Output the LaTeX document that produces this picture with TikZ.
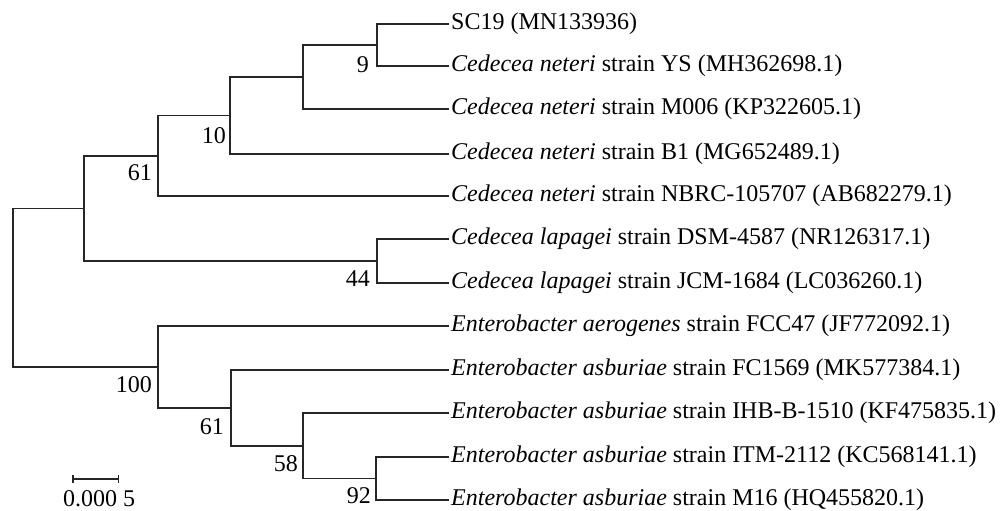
\documentclass[tikz,border=0pt]{standalone}
\usepackage{fontspec}
\setmainfont{Liberation Serif}
\usetikzlibrary{calc,arrows.meta}

\begin{document}
\begin{tikzpicture}[x=1pt, y=-1pt,
    branch/.style={draw, line width=1.5pt, color=black!85},
    leaf/.style={anchor=west, inner sep=2pt, font=\fontsize{24}{28}\selectfont},
    boot/.style={anchor=base east, inner sep=0pt, font=\fontsize{24}{28}\selectfont}]
    \useasboundingbox(0,0)rectangle(1001,511);

    % 葉ラベル
    \node[leaf](t1)at(449,24){SC19 (MN133936)};
    \node[leaf](t2)at(449,66){\textit{Cedecea neteri} strain YS (MH362698.1)};
    \node[leaf](t3)at(449,109){\textit{Cedecea neteri} strain M006 (KP322605.1)};
    \node[leaf](t4)at(449,154){\textit{Cedecea neteri} strain B1 (MG652489.1)};
    \node[leaf](t5)at(449,196){\textit{Cedecea neteri} strain NBRC-105707 (AB682279.1)};
    \node[leaf](t6)at(449,239){\textit{Cedecea lapagei} strain DSM-4587 (NR126317.1)};
    \node[leaf](t7)at(449,283){\textit{Cedecea lapagei} strain JCM-1684 (LC036260.1)};
    \node[leaf](t8)at(449,326){\textit{Enterobacter aerogenes} strain FCC47 (JF772092.1)};
    \node[leaf](t9)at(449,370){\textit{Enterobacter asburiae} strain FC1569 (MK577384.1)};
    \node[leaf](t10)at(449,413){\textit{Enterobacter asburiae} strain IHB-B-1510 (KF475835.1)};
    \node[leaf](t11)at(449,457){\textit{Enterobacter asburiae} strain ITM-2112 (KC568141.1)};
    \node[leaf](t12)at(449,500){\textit{Enterobacter asburiae} strain M16 (HQ455820.1)};

    % 内部節点 (Cedecea)
    \coordinate(nD)at(377,45);
    \coordinate(nC)at(303,77);
    \coordinate(nB)at(230,115.5);
    \coordinate(nA)at(158,155.75);
    \coordinate(nLap)at(377,261);
    \coordinate(nCed)at(84,208.4);
    % 内部節点 (Enterobacter)
    \coordinate(nG)at(376,478.5);
    \coordinate(nF)at(303,445.75);
    \coordinate(nE)at(231,407.9);
    \coordinate(nEnt)at(158,366.9);
    % 根
    \coordinate(root)at(13,287.7);

    % 枝
    \path[branch](nD)|-(t1);
    \path[branch](nD)|-(t2);
    \path[branch](nC)|-(nD);
    \path[branch](nC)|-(t3);
    \path[branch](nB)|-(nC);
    \path[branch](nB)|-(t4);
    \path[branch](nA)|-(nB);
    \path[branch](nA)|-(t5);
    \path[branch](nLap)|-(t6);
    \path[branch](nLap)|-(t7);
    \path[branch](nCed)|-(nA);
    \path[branch](nCed)|-(nLap);
    \path[branch](nG)|-(t11);
    \path[branch](nG)|-(t12);
    \path[branch](nF)|-(t10);
    \path[branch](nF)|-(nG);
    \path[branch](nE)|-(t9);
    \path[branch](nE)|-(nF);
    \path[branch](nEnt)|-(t8);
    \path[branch](nEnt)|-(nE);
    \path[branch](root)|-(nCed);
    \path[branch](root)|-(nEnt);

    % ブートストラップ値
    \node[boot](b9)at(369,72){9};
    \node[boot](b10)at(226,143){10};
    \node[boot](b61a)at(152,180){61};
    \node[boot](b44)at(370,286){44};
    \node[boot](b100)at(152,392){100};
    \node[boot](b61b)at(224,434){61};
    \node[boot](b58)at(298,471){58};
    \node[boot](b92)at(371,503){92};

    % スケールバー
    \coordinate(sbL)at(72,479);
    \coordinate(sbR)at(119,479);
    \path[branch, {Bar[width=8pt]}-{Bar[width=8pt]}](sbL)to(sbR);
    \node[boot, anchor=base](sbT)at(99,506){0.000 5};
\end{tikzpicture}
\end{document}
